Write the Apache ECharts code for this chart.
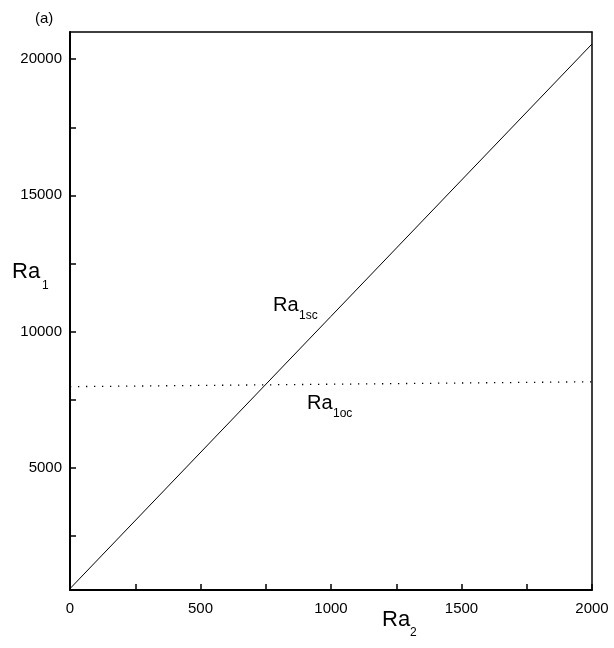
<!DOCTYPE html>
<html><head><meta charset="utf-8">
<script src="https://cdn.jsdelivr.net/npm/echarts@6/dist/echarts.min.js"></script>
<style>html,body{margin:0;padding:0;background:#fff}#c{width:614px;height:648px}</style>
</head><body><div id="c"></div>
<script>
// Ra1sc line (solid)
const ra2Sc = [0, 2000];
const ra1Sc = [550, 20560];
// Ra1oc line (dotted)
const ra2Oc = [0, 2000];
const ra1Oc = [7970, 8150];
// ticks and labels
const xTicks = [0, 250, 500, 750, 1000, 1250, 1500, 1750, 2000];
const xTickLabels = [0, 500, 1000, 1500, 2000];
const yTicks = [2500, 5000, 7500, 10000, 12500, 15000, 17500, 20000];
const yTickLabels = [5000, 10000, 15000, 20000];

const FONT = '"Liberation Sans", Arial, sans-serif';
const chart = echarts.init(document.getElementById('c'), null, {renderer: 'canvas'});

function txt(x, y, text, size) {
  return {type: 'text', x: x, y: y, silent: true,
    style: {text: text, fontFamily: FONT, fontSize: size, fill: '#000', align: 'left', verticalAlign: 'middle'}};
}
const plain = v => String(v);

const option = {
  backgroundColor: '#fff',
  animation: false,
  grid: {left: 70, right: 22, top: 32, bottom: 58, containLabel: false, outerBoundsMode: 'none'},
  xAxis: [{
    type: 'value', min: 0, max: 2000, position: 'bottom',
    axisLine: {show: true, onZero: false, lineStyle: {color: '#000', width: 2}},
    axisTick: {show: true, inside: true, length: 6, customValues: xTicks, lineStyle: {color: '#000', width: 1.5}},
    axisLabel: {show: true, customValues: xTickLabels, formatter: plain, margin: 11, color: '#000', fontFamily: FONT, fontSize: 15},
    splitLine: {show: false}
  }, {
    type: 'value', min: 0, max: 2000, position: 'top',
    axisLine: {show: true, onZero: false, lineStyle: {color: '#000', width: 1.5}},
    axisTick: {show: false}, axisLabel: {show: false}, splitLine: {show: false}
  }],
  yAxis: [{
    type: 'value', min: 500, max: 21000, position: 'left',
    axisLine: {show: true, onZero: false, lineStyle: {color: '#000', width: 2}},
    axisTick: {show: true, inside: true, length: 6, customValues: yTicks, lineStyle: {color: '#000', width: 1.5}},
    axisLabel: {show: true, customValues: yTickLabels, formatter: plain, margin: 8, color: '#000', fontFamily: FONT, fontSize: 15},
    splitLine: {show: false}
  }, {
    type: 'value', min: 500, max: 21000, position: 'right',
    axisLine: {show: true, onZero: false, lineStyle: {color: '#000', width: 1.5}},
    axisTick: {show: false}, axisLabel: {show: false}, splitLine: {show: false}
  }],
  series: [{
    type: 'line', name: 'Ra1sc', xAxisIndex: 0, yAxisIndex: 0,
    data: ra2Sc.map((x, i) => [x, ra1Sc[i]]),
    symbol: 'none', lineStyle: {color: '#000', width: 1}
  }, {
    type: 'line', name: 'Ra1oc', xAxisIndex: 0, yAxisIndex: 0,
    data: ra2Oc.map((x, i) => [x, ra1Oc[i]]),
    symbol: 'none', lineStyle: {color: '#000', width: 1.3, type: [1.3, 6.7]}
  }],
  graphic: [
    txt(35, 18.5, '(a)', 15),
    txt(12, 271.5, 'Ra', 22), txt(42, 286, '1', 12),
    txt(382, 620, 'Ra', 22), txt(410, 633, '2', 12),
    txt(273, 305, 'Ra', 20), txt(299, 316, '1sc', 12),
    txt(307, 403.5, 'Ra', 20), txt(333, 414, '1oc', 12)
  ]
};
chart.setOption(option);
</script></body></html>
